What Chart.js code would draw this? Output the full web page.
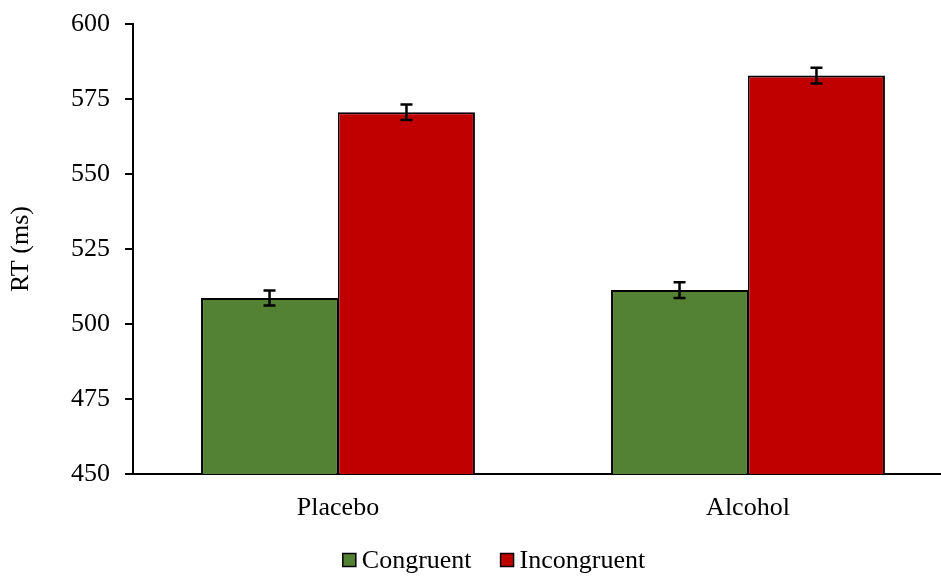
<!DOCTYPE html>
<html>
<head>
<meta charset="utf-8">
<style>
  html, body { margin: 0; padding: 0; background: #fff; overflow: hidden; }
  #wrap { width: 941px; height: 576px; overflow: hidden; }
  canvas { display: block; }
</style>
<script src="https://cdn.jsdelivr.net/npm/chart.js@4/dist/chart.umd.min.js"></script>
</head>
<body>
<div id="wrap"><canvas id="c" width="960" height="576"></canvas></div>
<script>
// Mean reaction times (ms) by beverage condition
const categories = ['Placebo', 'Alcohol'];
const congruent = [508.7, 511.3];
const incongruent = [570.6, 582.8];
// Standard errors
const congruentErr = [2.5, 2.6];
const incongruentErr = [2.6, 2.6];
const yTicks = [450, 475, 500, 525, 550, 575, 600];

const FONT = "'Liberation Serif', 'Times New Roman', serif";
const GREEN = '#548235';
const RED = '#C00000';

// Error bars drawn on top of each bar
const errorBars = {
  id: 'errorBars',
  afterDatasetsDraw(chart) {
    const ctx = chart.ctx;
    const y = chart.scales.y;
    const errs = [congruentErr, incongruentErr];
    ctx.save();
    ctx.strokeStyle = '#000';
    ctx.lineWidth = 2.5;
    chart.data.datasets.forEach((ds, di) => {
      const meta = chart.getDatasetMeta(di);
      meta.data.forEach((bar, i) => {
        const v = ds.data[i];
        const e = errs[di][i];
        const yTop = y.getPixelForValue(v + e);
        const yBot = y.getPixelForValue(v - e);
        const x = bar.x;
        const half = 6;
        ctx.beginPath();
        ctx.moveTo(x, yTop); ctx.lineTo(x, yBot);
        ctx.moveTo(x - half, yTop); ctx.lineTo(x + half, yTop);
        ctx.moveTo(x - half, yBot); ctx.lineTo(x + half, yBot);
        ctx.stroke();
      });
    });
    ctx.restore();
  }
};

// Legend row beneath the category labels
const bottomLegend = {
  id: 'bottomLegend',
  afterDraw(chart) {
    const ctx = chart.ctx;
    const items = chart.data.datasets.map(d => ({ label: d.label, color: d.backgroundColor }));
    ctx.save();
    ctx.font = '26px ' + FONT;
    const box = 13, gapBoxText = 6, gapItems = 29;
    let total = 0;
    items.forEach((it, i) => {
      it.w = ctx.measureText(it.label).width;
      total += box + gapBoxText + it.w + (i ? gapItems : 0);
    });
    let x = 494 - total / 2;
    const cy = 560;
    items.forEach((it) => {
      ctx.fillStyle = it.color;
      ctx.fillRect(x, cy - box / 2, box, box);
      ctx.strokeStyle = '#000';
      ctx.lineWidth = 1.5;
      ctx.strokeRect(x, cy - box / 2, box, box);
      ctx.fillStyle = '#000';
      ctx.textBaseline = 'middle';
      ctx.textAlign = 'left';
      ctx.fillText(it.label, x + box + gapBoxText, cy + 1);
      x += box + gapBoxText + it.w + gapItems;
    });
    ctx.restore();
  }
};

new Chart(document.getElementById('c'), {
  type: 'bar',
  data: {
    labels: categories,
    datasets: [
      { label: 'Congruent', data: congruent, backgroundColor: GREEN, borderColor: '#000',
        borderWidth: { top: 2, left: 2, right: 1.5, bottom: 0 } },
      { label: 'Incongruent', data: incongruent, backgroundColor: RED, borderColor: '#000',
        borderWidth: { top: 2, left: 1.5, right: 2, bottom: 0 } }
    ]
  },
  options: {
    responsive: false,
    devicePixelRatio: 1,
    animation: false,
    layout: { padding: { left: 0, right: 7, top: 24, bottom: 42 } },
    datasets: { bar: { categoryPercentage: 0.668, barPercentage: 1 } },
    plugins: {
      legend: { display: false },
      tooltip: { enabled: false }
    },
    scales: {
      x: {
        grid: { display: false, drawTicks: false },
        border: { display: true, color: '#000', width: 2 },
        ticks: { color: '#000', font: { family: FONT, size: 26 }, padding: 19 },
        afterFit(s) { s.height = 60; }
      },
      y: {
        min: 450,
        max: 600,
        afterBuildTicks(s) { s.ticks = yTicks.map(v => ({ value: v })); },
        grid: { drawOnChartArea: false, drawTicks: true, tickLength: 8, color: '#000', lineWidth: 2 },
        border: { display: true, color: '#000', width: 2 },
        ticks: { color: '#000', font: { family: FONT, size: 26 }, padding: 15 },
        title: { display: true, text: 'RT (ms)', color: '#000', font: { family: FONT, size: 26 }, padding: { top: 6, bottom: 0 } },
        afterFit(s) { s.width = 133; s.paddingTop = 0; s.paddingBottom = 0; }
      }
    }
  },
  plugins: [errorBars, bottomLegend]
});
</script>
</body>
</html>
